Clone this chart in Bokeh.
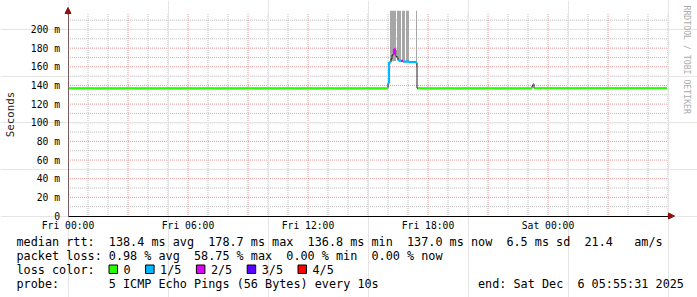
import math
from bokeh.plotting import figure
from bokeh.models import FixedTicker, Label, Arrow, NormalHead, Range1d, LinearAxis
from bokeh.embed import file_html
from bokeh.resources import INLINE
from bokeh.core.properties import value

# ---------------- data ----------------
# median RTT as runs: start hour (from Fri 00:00), median (ms), loss (pings lost of 5)
run_start_h = [0.00, 16.00, 16.05, 16.10, 16.15, 16.20, 16.25, 16.30, 16.35, 16.40, 16.45,
               16.50, 16.55, 16.65, 16.75, 17.05, 17.40, 17.45, 17.50, 23.20, 23.25, 23.30]
run_median_ms = [136.9, 142.5, 164.5, 164.8, 168.5, 172.5, 173.6, 178.7, 178.0, 171.0, 170.0,
                 167.0, 166.5, 166.3, 165.6, 165.0, 164.5, 137.2, 136.9, 139.5, 141.5, 137.0]
run_loss = [0, 1, 1, 1, 0.6, 0.6, 2, 2, 2, 1.4, 2,
            1, 1, 2, 1, 1, 1, 2, 0, 0.4, 1, 0]
series_end_h = 29.95

# smoke (spread of the individual pings)
smoke_start_h = [16.10, 16.45, 16.70, 16.90, 17.40]
smoke_end_h = [16.40, 16.65, 16.85, 17.05, 17.45]
smoke_lo_ms = [166.0, 167.0, 166.0, 165.5, 160.0]
smoke_hi_ms = [220.0, 220.0, 220.0, 220.0, 220.0]

x_tick_hours = [0, 6, 12, 18, 24]
x_tick_labels = ["Fri 00:00", "Fri 06:00", "Fri 12:00", "Fri 18:00", "Sat 00:00"]
y_tick_ms = [0, 20, 40, 60, 80, 100, 120, 140, 160, 180, 200]
y_tick_labels = ["0", "20 m", "40 m", "60 m", "80 m", "100 m", "120 m", "140 m",
                 "160 m", "180 m", "200 m"]

loss_labels = ["0", "1/5", "2/5", "3/5", "4/5"]
loss_colors = ["#26ff00", "#00b8ff", "#dd00ff", "#5e00ff", "#ff0000"]

rtt_stats = ["138.4 ms avg", "178.7 ms max", "136.8 ms min", "137.0 ms now", "6.5 ms sd", "21.4", "am/s"]
loss_stats = ["0.98 % avg", "58.75 % max", "0.00 % min", "0.00 % now"]
probe_text = "5 ICMP Echo Pings (56 Bytes) every 10s"
end_text = ["end: Sat Dec", "6 05:55:31 2025"]

# ---------------- geometry ----------------
W, H = 697, 297
XA, XS = 67.5, 20.0       # pixel of hour 0, pixels per hour
YA, YS = 215.5, 0.9325    # pixel of 0 ms, pixels per ms
MONO = "DejaVu Sans Mono"

def px2x(px):
    return (px - XA) / XS

def py2y(py):
    return (YA - py) / YS

p = figure(width=W, height=H, x_range=Range1d(px2x(0), px2x(W)),
           y_range=Range1d(py2y(H), py2y(0)),
           x_axis_location=None, y_axis_location=None, min_border=0,
           toolbar_location=None, output_backend="svg")
p.background_fill_color = "white"
p.border_fill_color = "white"
p.outline_line_color = None

# dotted grid (line starts on half pixels so the 1-on/1-off dots stay crisp)
G_BOTTOM, G_TOP = py2y(214.5), py2y(13.5)
G_LEFT, G_RIGHT = px2x(67.5), px2x(668.5)
maj_x = [h for h in range(3, 30, 3)]
min_x = [h for h in range(1, 31) if h % 3 or h == 30]
maj_y = y_tick_ms[1:]
min_y = [v + 10 for v in y_tick_ms]
major_col, minor_col = "#e09898", "#bdbdbd"

p.segment(x0=min_x, y0=[G_BOTTOM] * len(min_x), x1=min_x, y1=[G_TOP] * len(min_x),
          line_color=minor_col, line_dash="1 1", level="underlay")
p.segment(x0=maj_x, y0=[G_BOTTOM] * len(maj_x), x1=maj_x, y1=[G_TOP] * len(maj_x),
          line_color=major_col, line_dash="1 1", level="underlay")
p.segment(x0=[G_LEFT] * len(min_y), y0=min_y, x1=[G_RIGHT] * len(min_y), y1=min_y,
          line_color=minor_col, line_dash="1 1", level="underlay")
p.segment(x0=[G_LEFT] * len(maj_y), y0=maj_y, x1=[G_RIGHT] * len(maj_y), y1=maj_y,
          line_color=major_col, line_dash="1 1", level="underlay")

# axes (fixed at the data origin)
xaxis = LinearAxis(fixed_location=0, ticker=FixedTicker(ticks=x_tick_hours),
                   major_label_overrides={h: lab for h, lab in zip(x_tick_hours, x_tick_labels)},
                   bounds=(0, px2x(668)))
yaxis = LinearAxis(fixed_location=0, ticker=FixedTicker(ticks=y_tick_ms),
                   major_label_overrides={v: lab for v, lab in zip(y_tick_ms, y_tick_labels)},
                   bounds=(0, py2y(12)))
for ax in (xaxis, yaxis):
    ax.major_tick_line_color = None
    ax.minor_tick_line_color = None
    ax.major_tick_out = 0
    ax.major_tick_in = 0
    ax.minor_tick_out = 0
    ax.major_label_text_font = MONO
    ax.major_label_text_font_size = "9.7px"
    ax.major_label_text_color = "black"
xaxis.axis_line_color = "black"
xaxis.major_label_standoff = 4
yaxis.axis_line_color = "#7a5a5a"
yaxis.major_label_standoff = 8
yaxis.axis_label = "Seconds"
yaxis.axis_label_text_font = MONO
yaxis.axis_label_text_font_size = "10.8px"
yaxis.axis_label_text_font_style = "normal"
yaxis.axis_label_text_color = "#202020"
yaxis.axis_label_standoff = 11
p.add_layout(xaxis, "below")
p.add_layout(yaxis, "left")

# smoke
p.quad(left=smoke_start_h, right=smoke_end_h, bottom=smoke_lo_ms, top=smoke_hi_ms,
       fill_color="#a6a6a6", line_color=None)

# median (dark step line)
t_edges = run_start_h + [series_end_h]
xs_step, ys_step = [], []
for i, v in enumerate(run_median_ms):
    xs_step += [t_edges[i], t_edges[i + 1]]
    ys_step += [v, v]
p.line(xs_step, ys_step, line_color="#202020", line_width=1)

# median coloured by loss
for k, col in enumerate(loss_colors):
    xs, ys = [], []
    cx, cy = None, None
    for i, (v, l) in enumerate(zip(run_median_ms, run_loss)):
        if l == k:
            if cx is None:
                cx, cy = [], []
            cx += [t_edges[i], t_edges[i + 1]]
            cy += [v, v]
        else:
            if cx:
                xs.append(cx); ys.append(cy)
            cx, cy = None, None
    if cx:
        xs.append(cx); ys.append(cy)
    if xs:
        p.multi_line(xs, ys, line_color=col, line_width=2.2)

# axis arrows
arrow_col = "#8f1010"
p.add_layout(Arrow(x_start=px2x(667), y_start=0, x_end=px2x(674), y_end=0,
                   line_color=arrow_col, line_width=1,
                   end=NormalHead(size=6, fill_color=arrow_col, line_color=arrow_col)))
p.add_layout(Arrow(x_start=0, y_start=py2y(14), x_end=0, y_end=py2y(7),
                   line_color=arrow_col, line_width=1,
                   end=NormalHead(size=6, fill_color=arrow_col, line_color=arrow_col)))

# watermark
p.add_layout(Label(x=px2x(686), y=py2y(5), text="RRDTOOL / TOBI OETIKER", angle=-math.pi / 2,
                   text_font=MONO, text_font_size="8.2px", text_color="#ababab",
                   text_align="left", text_baseline="middle"))

# ---------------- legend text ----------------
CH = 7.1
LX = 16
rows_y = [241, 255, 269, 283]
segs = [(0, 0, "median rtt:")]
segs += [(c, 0, s) for c, s in zip([13, 27, 41, 55, 69, 80, 87], rtt_stats)]
segs += [(0, 1, "packet loss:")]
segs += [(c, 1, s) for c, s in zip([13, 25, 38, 50], loss_stats)]
segs += [(0, 2, "loss color:"), (0, 3, "probe:"), (13, 3, probe_text),
         (65, 3, end_text[0]), (79, 3, end_text[1])]

p.text(x=[px2x(LX + c * CH) for c, _, _ in segs], y=[py2y(rows_y[r]) for _, r, _ in segs],
       text=[s for _, _, s in segs], text_font=value(MONO), text_font_size=value("11.8px"),
       text_color="black", text_baseline="middle", text_align="left")

box_left, lab_x = [], []
bx = 108.5
for lab in loss_labels:
    box_left.append(bx)
    lab_x.append(bx + 14.5)
    bx = bx + 14.5 + len(lab) * CH + 15
n = len(loss_labels)
p.quad(left=[px2x(b) for b in box_left], right=[px2x(b + 8.5) for b in box_left],
       top=[py2y(rows_y[2] - 4.5)] * n, bottom=[py2y(rows_y[2] + 4)] * n,
       fill_color=loss_colors, line_color="black", line_width=1)
p.text(x=[px2x(b) for b in lab_x], y=[py2y(rows_y[2])] * n, text=loss_labels,
       text_font=value(MONO), text_font_size=value("11.8px"), text_color="black",
       text_baseline="middle", text_align="left")

open("out.html", "w").write(file_html(p, INLINE))
